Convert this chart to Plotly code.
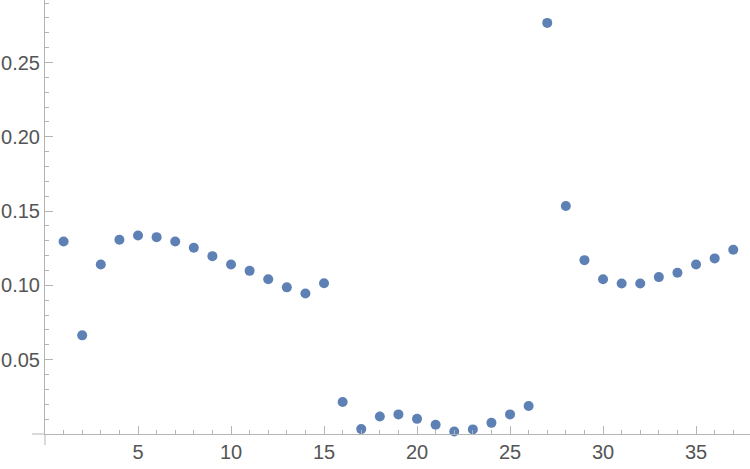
import plotly.graph_objects as go

x_vals = list(range(1, 38))
y_vals = [0.1296, 0.0664, 0.1141, 0.1307, 0.1336, 0.1325, 0.1296, 0.1253, 0.1197, 0.1141,
          0.1098, 0.1042, 0.0987, 0.0946, 0.1015, 0.0215, 0.0033, 0.0118, 0.0132, 0.0102,
          0.0062, 0.0017, 0.0031, 0.0075, 0.0132, 0.0188, 0.2767, 0.1534, 0.1170, 0.1042,
          0.1013, 0.1013, 0.1056, 0.1085, 0.1141, 0.1182, 0.1240]
x_ticks = [5, 10, 15, 20, 25, 30, 35]
y_ticks = [0.05, 0.10, 0.15, 0.20, 0.25]
y_tick_text = ["0.05", "0.10", "0.15", "0.20", "0.25"]

axis_color = "#b4b4b4"
label_font = dict(family="Liberation Sans, Arial, sans-serif", size=20, color="#555555")

fig = go.Figure(go.Scatter(
    x=x_vals, y=y_vals, mode="markers",
    marker=dict(color="#5E81B5", size=10, line=dict(width=0)),
    cliponaxis=False,
))

fig.update_layout(
    width=750, height=469,
    margin=dict(l=45, r=0, t=0, b=35),
    paper_bgcolor="white", plot_bgcolor="white",
    showlegend=False,
    xaxis=dict(range=[0, 37.9], showgrid=False, zeroline=False,
               showline=True, linecolor=axis_color, linewidth=1,
               ticks="inside", ticklen=8, tickcolor=axis_color, tickwidth=1,
               tickvals=x_ticks, tickfont=label_font,
               minor=dict(dtick=1, tick0=0, ticks="inside", ticklen=4,
                          tickcolor=axis_color, tickwidth=1, showgrid=False)),
    yaxis=dict(range=[0, 0.2921], showgrid=False, zeroline=False,
               showline=True, linecolor=axis_color, linewidth=1,
               ticks="inside", ticklen=8, tickcolor=axis_color, tickwidth=1,
               tickvals=y_ticks, ticktext=y_tick_text, tickfont=label_font,
               minor=dict(dtick=0.01, tick0=0, ticks="inside", ticklen=4,
                          tickcolor=axis_color, tickwidth=1, showgrid=False)),
    shapes=[
        dict(type="line", xref="paper", yref="paper", x0=-13/705, x1=0, y0=0, y1=0,
             line=dict(color=axis_color, width=1)),
        dict(type="line", xref="paper", yref="paper", x0=0, x1=0, y0=-11/434, y1=0,
             line=dict(color=axis_color, width=1)),
    ],
)

fig.write_html("out.html")
